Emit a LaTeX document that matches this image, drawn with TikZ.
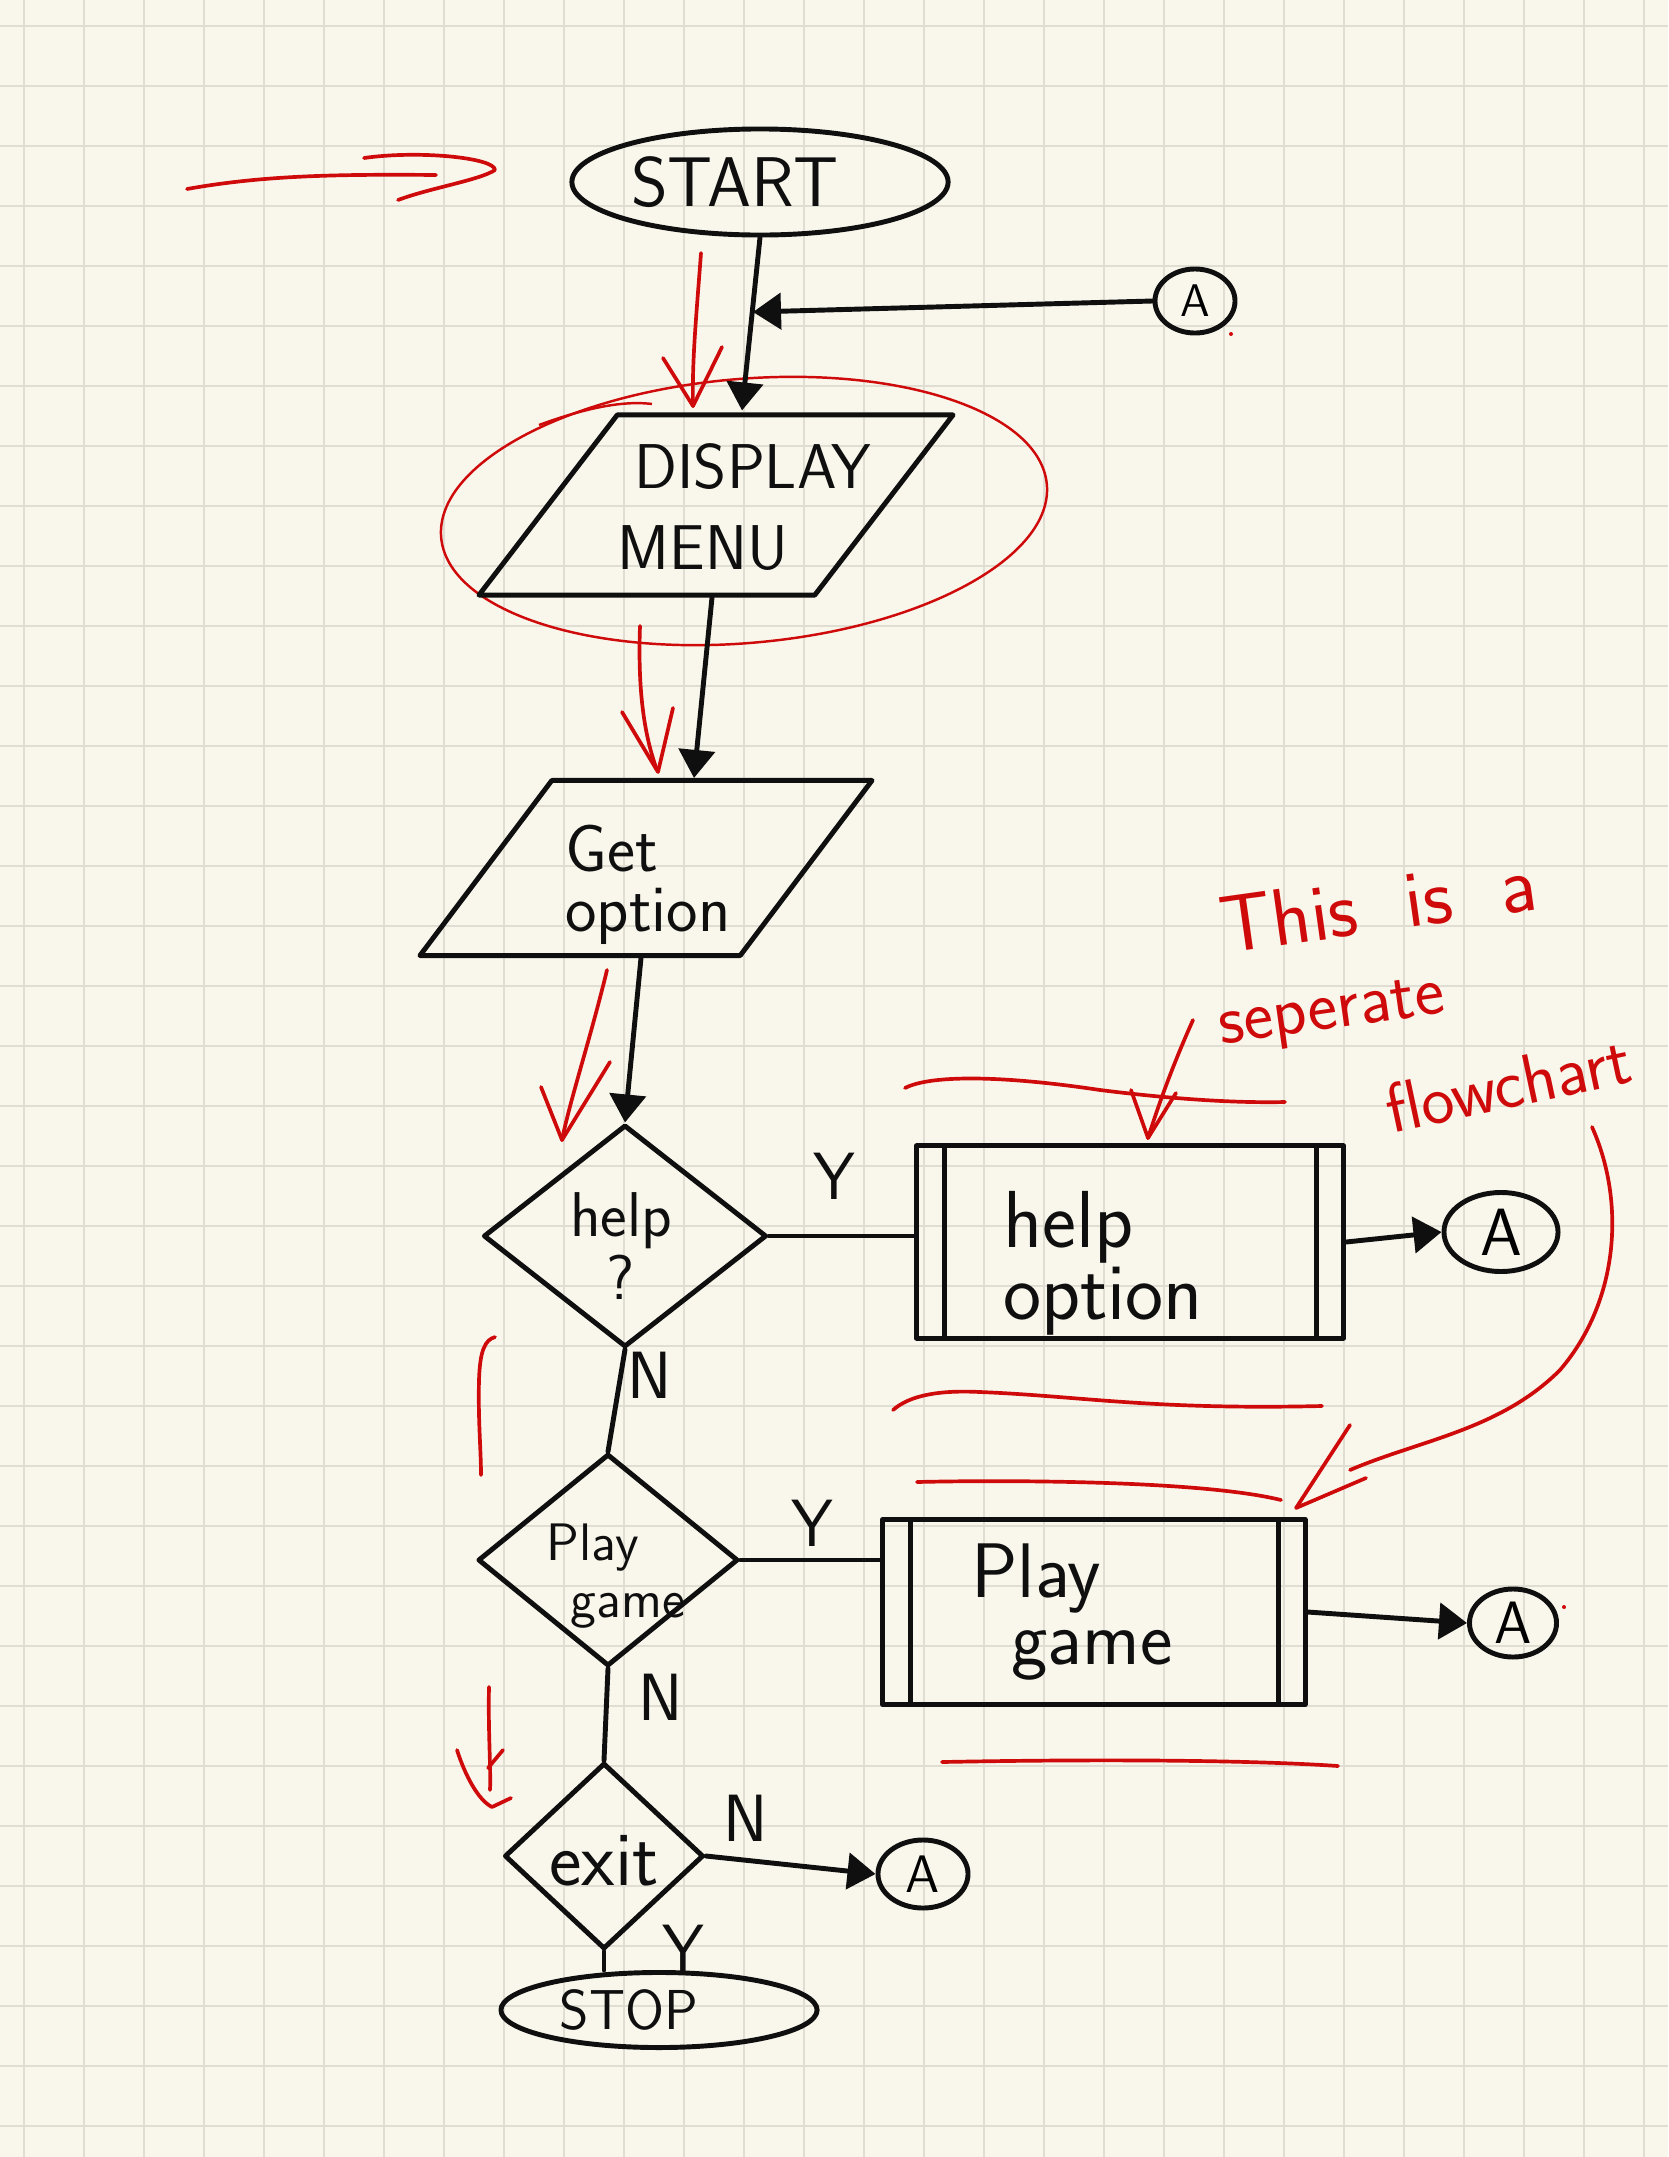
\documentclass[tikz,border=0pt]{standalone}
\usetikzlibrary{shapes.geometric,arrows.meta,calc}
\definecolor{paper}{RGB}{249,247,236}
\definecolor{gridc}{RGB}{224,221,211}
\definecolor{ink}{RGB}{15,15,15}
\definecolor{pen}{RGB}{206,10,10}
\newcommand{\fsz}[1]{\fontsize{#1}{#1}\selectfont}
\begin{document}
\begin{tikzpicture}[x=0.01cm,y=-0.01cm,
  ln/.style={draw=ink,line width=1.4pt,line cap=round,line join=round},
  arr/.style={ln,-{Triangle[length=0.28cm,width=0.36cm]}},
  redl/.style={draw=pen,line width=1.05pt,line cap=round,line join=round},
  thinred/.style={draw=pen,line width=0.7pt},
  lbl/.style={inner sep=0pt,text=ink},
  yn/.style={inner sep=0pt,text=ink,font=\sffamily\fsz{19}},
  conn/.style={ellipse,ln,inner sep=0pt,font=\sffamily},
  para/.style={trapezium,trapezium left angle=55,trapezium right angle=125,trapezium stretches=true,ln,inner sep=3pt},
  dec/.style={diamond,ln,inner sep=1pt},
  subproc/.style={rectangle,ln,inner sep=0pt,path picture={
     \draw[ink,line width=1.4pt] ([xshift=0.28cm]path picture bounding box.north west) -- ([xshift=0.28cm]path picture bounding box.south west);
     \draw[ink,line width=1.4pt] ([xshift=-0.27cm]path picture bounding box.north east) -- ([xshift=-0.27cm]path picture bounding box.south east);}},
  note/.style={text=pen,inner sep=0pt,font=\sffamily}
]
% paper and grid
\fill[paper] (0,0) rectangle (1668,2157);
\useasboundingbox (0,0) rectangle (1668,2157);
\foreach \gx in {24,84,...,1644} \draw[gridc,line width=0.57pt] (\gx,0) -- (\gx,2157);
\foreach \gy in {26,86,...,2126} \draw[gridc,line width=0.57pt] (0,\gy) -- (1668,\gy);

% red annotations
\draw[redl] (187,189) .. controls (260,176) and (330,174) .. (436,175);
\draw[redl] (364,158) .. controls (420,150) and (495,158) .. (495,170) .. controls (480,180) and (430,188) .. (398,200);
\draw[redl] (701,253) .. controls (696,320) and (692,360) .. (693,406);
\draw[redl] (663,358) -- (693,406) -- (722,347);
\draw[thinred,rotate around={5:(744,511)}] (744,511) ellipse [x radius=304,y radius=132];
\draw[thinred] (539,425) .. controls (580,410) and (620,400) .. (652,404);
\draw[redl] (640,626) .. controls (638,680) and (642,730) .. (657,770);
\draw[redl] (622,712) -- (658,772) -- (673,708);
\draw[redl] (607,970) .. controls (590,1040) and (570,1100) .. (562,1140);
\draw[redl] (541,1087) -- (562,1140) -- (610,1062);
\draw[redl] (495,1337) .. controls (485,1340) and (480,1350) .. (479,1380) .. controls (478,1420) and (481,1450) .. (481,1475);
\draw[redl] (489,1687) .. controls (488,1730) and (491,1770) .. (490,1790);
\draw[redl] (488,1768) -- (503,1750);
\draw[redl] (457,1750) .. controls (465,1775) and (478,1800) .. (492,1807) -- (511,1798);
\draw[redl] (905,1088) .. controls (930,1075) and (1000,1075) .. (1100,1090) .. controls (1180,1100) and (1240,1103) .. (1285,1102);
\draw[redl] (1193,1020) .. controls (1175,1060) and (1160,1100) .. (1148,1138);
\draw[redl] (1131,1090) -- (1148,1138) -- (1176,1093);
\draw[redl] (893,1410) .. controls (910,1395) and (940,1390) .. (980,1392) .. controls (1080,1396) and (1150,1410) .. (1322,1406);
\draw[redl] (917,1482) .. controls (1000,1480) and (1200,1480) .. (1281,1500);
\draw[redl] (942,1762) .. controls (1100,1759) and (1250,1760) .. (1338,1766);
\draw[redl] (1592,1127) .. controls (1625,1200) and (1620,1300) .. (1560,1370) .. controls (1500,1430) and (1420,1440) .. (1350,1470);
\draw[redl] (1350,1425) -- (1296,1508) -- (1366,1478);
\fill[pen] (1231,334) circle [radius=2];
\fill[pen] (1564,1607) circle [radius=2];
\node[note,font=\sffamily\fsz{23},rotate=8] (note1) at (1378,904) {This\hspace{0.6em}is\hspace{0.6em}a};
\node[note,font=\sffamily\fsz{20},rotate=8] (note2) at (1332,1016) {seperate};
\node[note,font=\sffamily\fsz{20},rotate=12] (note3) at (1508,1084) {flowchart};

% flowchart nodes
\node[ellipse,ln,inner sep=0pt,minimum width=3.76cm,minimum height=1.06cm,
  label={[lbl,font=\sffamily\fsz{20},xshift=-0.25cm]center:START}] (start) at (760,182) {};
\node[conn,minimum width=0.80cm,minimum height=0.64cm,font=\sffamily\fsz{13}] (A1) at (1195,301) {A};
\node[para,minimum width=4.74cm,minimum height=1.8cm,
  label={[lbl,font=\sffamily\fontsize{18}{23}\selectfont,align=center,xshift=-0.13cm,yshift=-0.02cm]center:{\hspace*{1cm}DISPLAY\\MENU}}] (display) at (716,505) {};
\node[para,minimum width=4.52cm,minimum height=1.75cm,
  label={[lbl,font=\sffamily\fontsize{19}{17}\selectfont,align=left,xshift=0.02cm,yshift=-0.17cm]center:{Get\\option}}] (getopt) at (646,868) {};
\node[dec,minimum width=2.83cm,minimum height=2.22cm,
  label={[lbl,font=\sffamily\fontsize{18}{18}\selectfont,align=center,xshift=-0.04cm,yshift=-0.1cm]center:{help\\?}}] (help) at (625,1236) {};
\node[subproc,minimum width=4.27cm,minimum height=1.92cm,
  label={[lbl,font=\sffamily\fontsize{23}{17}\selectfont,align=left,xshift=-0.27cm,yshift=-0.21cm]center:{help\\option}}] (hopt) at (1130,1242) {};
\node[conn,minimum width=1.14cm,minimum height=0.79cm,font=\sffamily\fsz{19}] (A2) at (1501,1232) {A};
\node[dec,minimum width=2.60cm,minimum height=2.12cm,
  label={[lbl,font=\sffamily\fontsize{15}{16}\selectfont,align=left,xshift=0.08cm,yshift=-0.16cm]center:{Play\\\hspace*{0.24cm}game}}] (play) at (608,1560) {};
\node[subproc,minimum width=4.22cm,minimum height=1.85cm,
  label={[lbl,font=\sffamily\fontsize{22}{19}\selectfont,align=left,xshift=-0.22cm]center:{Play\\\hspace*{0.4cm}game}}] (pgame) at (1094,1612) {};
\node[conn,minimum width=0.87cm,minimum height=0.68cm,font=\sffamily\fsz{17}] (A3) at (1513,1623) {A};
\node[dec,minimum width=1.99cm,minimum height=1.86cm,
  label={[lbl,font=\sffamily\fsz{22},yshift=-0.05cm]center:exit}] (exit) at (604,1856) {};
\node[conn,minimum width=0.90cm,minimum height=0.68cm,font=\sffamily\fsz{15}] (A4) at (923,1874) {A};
\node[ellipse,ln,inner sep=0pt,minimum width=3.16cm,minimum height=0.75cm,
  label={[lbl,font=\sffamily\fsz{16},xshift=-0.3cm]center:STOP}] (stop) at (659,2010) {};

% branch labels
\node[yn] (yhelp) at (834,1176) {Y};
\node[yn] (nhelp) at (650,1375) {N};
\node[yn] (yplay) at (812,1523) {Y};
\node[yn] (nplay) at (661,1697) {N};
\node[yn] (nexit) at (746,1818) {N};
\node[yn] (yexit) at (683,1948) {Y};

% connectors
\coordinate (jA) at (753,312);
\draw[arr] (start.south) -- ($(display.north)+(26,-2)$);
\draw[arr] (A1.west) -- (jA);
\draw[arr] ($(display.south)+(-4,0)$) -- ($(getopt.north)+(48,0)$);
\draw[arr] ($(getopt.south)+(-5,0)$) -- (help.north);
\draw[ln] (help.east) -- (help.east -| hopt.west);
\draw[arr] (hopt.east) -- (A2.west);
\draw[ln] (help.south) -- (play.north);
\draw[ln] (play.east) -- (play.east -| pgame.west);
\draw[arr] (pgame.east) -- (A3.west);
\draw[ln] (play.south) -- (exit.north);
\draw[arr] (exit.east) -- (A4.west);
\draw[ln] (exit.south) -- (exit.south |- stop.north);
\end{tikzpicture}
\end{document}
